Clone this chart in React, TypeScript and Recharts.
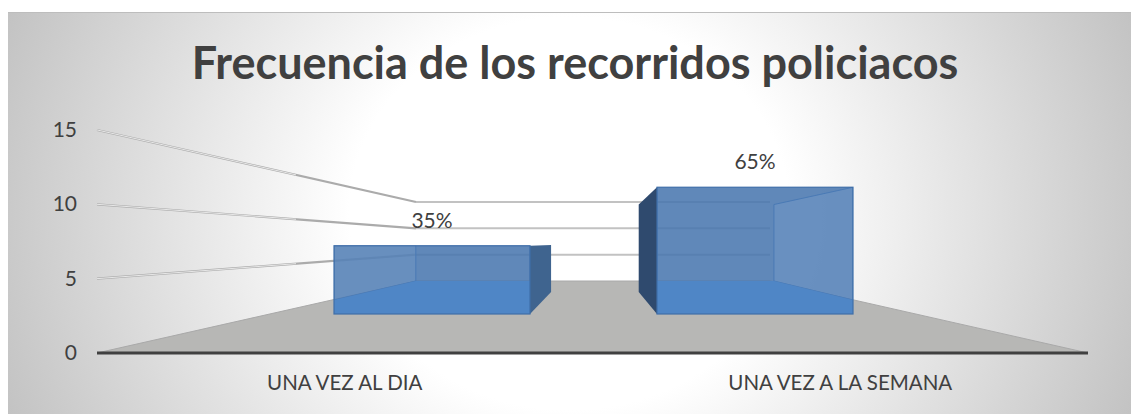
import { BarChart, Bar, XAxis, YAxis, LabelList } from 'recharts';

const categories = ['UNA VEZ AL DIA', 'UNA VEZ A LA SEMANA'];
const counts = [7, 13];
const percentLabels = ['35%', '65%'];
const wallTicks = [0, 5, 10, 15];

const chartData = categories.map((name, i) => ({ name, count: counts[i], label: percentLabels[i] }));

const FONT = 'Lato, "Open Sans", sans-serif';
const TEXT = '#404040';

// 3d look: everything below is in chart pixels
const LEFT = 89;
const RIGHT = 1080;
const BOTTOM = 341;
const FRONT_UNIT = 14.87;
const BACK_LEFT = 408;
const BACK_RIGHT = 762;
const BACK_FLOOR = 269;
const BACK_UNIT = 5.27;
const VANISH_X = 590;
const VANISH_Y = 231;
const SHRINK = 0.69;

const toBack = (px: number, py: number) => [
  VANISH_X + (px - VANISH_X) * SHRINK,
  VANISH_Y + (py - VANISH_Y) * SHRINK,
];

const pts = (list: number[][]) => list.map(p => p.join(',')).join(' ');

function renderWallTick({ x, y, payload }: any) {
  return (
    <text key={payload.value} x={x - 12} y={y} dy={7} textAnchor="end" fontSize={21} fontFamily={FONT} fill={TEXT}>
      {payload.value}
    </text>
  );
}

function wallLine(value: number) {
  const y = BOTTOM - value * FRONT_UNIT;
  const backY = BACK_FLOOR - value * BACK_UNIT;
  const midX = BACK_LEFT - 120;
  const midY = y + (backY - y) * ((midX - LEFT) / (BACK_LEFT - LEFT));
  return (
    <g key={value}>
      <line x1={BACK_LEFT} y1={backY} x2={BACK_RIGHT} y2={backY} stroke="#c2c2c2" strokeWidth={2} />
      <line x1={LEFT} y1={y} x2={BACK_LEFT} y2={backY} stroke="#ababab" strokeWidth={2.2} />
      <line x1={LEFT} y1={y} x2={midX} y2={midY} stroke="#f6f6f6" strokeWidth={0.8} />
    </g>
  );
}

function Bar3D({ x, y, width, height, index }: any) {
  const xL = x;
  const xR = x + width;
  const yT = y;
  const yB = y + height;
  const [bxL, byT] = toBack(xL, yT);
  const [bxR, byB] = toBack(xR, yB);
  const edgeY = yB - 14;
  const leftOfCentre = x + width / 2 < VANISH_X;
  const clip = `bar-front-${index}`;
  return (
    <g>
      {leftOfCentre ? (
        <polygon points={pts([[xR, yT], [bxR, byT], [bxR, byB], [xR, yB]])} fill="#3f648f" />
      ) : (
        <polygon points={pts([[xL, yT], [bxL, byT], [bxL, byB], [xL, yB]])} fill="#2f4a6e" />
      )}
      <clipPath id={clip}>
        <rect x={xL} y={yT} width={width} height={height} />
      </clipPath>
      <rect x={xL} y={yT} width={width} height={height} fill="#4675ae" fillOpacity={0.86} />
      <g clipPath={`url(#${clip})`}>
        <polygon points={pts([[xL, yT], [bxL, byT], [bxL, BACK_FLOOR], [xL, edgeY]])} fill="#7ea3cf" fillOpacity={0.25} stroke="#4a7ab5" />
        <polygon points={pts([[xR, yT], [bxR, byT], [bxR, BACK_FLOOR], [xR, edgeY]])} fill="#7ea3cf" fillOpacity={0.3} stroke="#4a7ab5" />
        <polygon points={pts([[xL, edgeY], [bxL, BACK_FLOOR], [bxR, BACK_FLOOR], [xR, edgeY], [xR, yB], [xL, yB]])} fill="#4f86c6" />
      </g>
      <rect x={xL} y={yT} width={width} height={height} fill="none" stroke="#3f6ea8" strokeWidth={1.2} />
    </g>
  );
}

export default function App() {
  return (
    <div
      style={{
        position: 'absolute',
        left: 8,
        top: 12,
        width: 1123,
        height: 402,
        borderTop: '1px solid #bdbdbd',
        boxSizing: 'border-box',
        background: 'radial-gradient(ellipse 56% 140% at 50% 50%, #ffffff 0%, #ffffff 35%, #bfbfbf 100%)',
      }}
    >
      <BarChart
        width={1123}
        height={402}
        data={chartData}
        margin={{ top: 118, right: 43, bottom: 0, left: 0 }}
        style={{ position: 'absolute', left: 0, top: -1 }}
      >
        <text x={567} y={67} textAnchor="middle" fontSize={45} fontWeight={700} fontFamily={FONT} fill={TEXT}>
          Frecuencia de los recorridos policiacos
        </text>
        <polygon
          points={pts([[LEFT, BOTTOM], [BACK_LEFT, BACK_FLOOR], [BACK_RIGHT, BACK_FLOOR], [RIGHT, BOTTOM]])}
          fill="#b7b7b5"
          stroke="#a9a9a9"
        />
        {wallTicks.filter(v => v > 0).map(wallLine)}
        <YAxis
          type="number"
          domain={[0, 15]}
          ticks={wallTicks}
          width={89}
          axisLine={false}
          tickLine={false}
          tick={renderWallTick}
        />
        <XAxis
          dataKey="name"
          height={61}
          axisLine={{ stroke: '#404040', strokeWidth: 3 }}
          tickLine={false}
          tickMargin={16}
          tick={{ fontSize: 20.5, fontFamily: FONT, fill: TEXT }}
        />
        {/* the wall axes only draw when a series is bound to them */}
        <Bar dataKey="count" fill="none" legendType="none" isAnimationActive={false} />
        {/* bars sit on a plane further back, so they get their own scales */}
        <YAxis yAxisId="bars" hide domain={[-4, 18.87]} allowDataOverflow />
        <XAxis xAxisId="bars" dataKey="name" hide padding={{ left: 173, right: 172 }} />
        <Bar
          dataKey="count"
          xAxisId="bars"
          yAxisId="bars"
          barSize={196}
          shape={<Bar3D />}
          isAnimationActive={false}
        >
          <LabelList dataKey="label" position="top" offset={18} fontSize={21} fontFamily={FONT} fill={TEXT} />
        </Bar>
      </BarChart>
    </div>
  );
}
